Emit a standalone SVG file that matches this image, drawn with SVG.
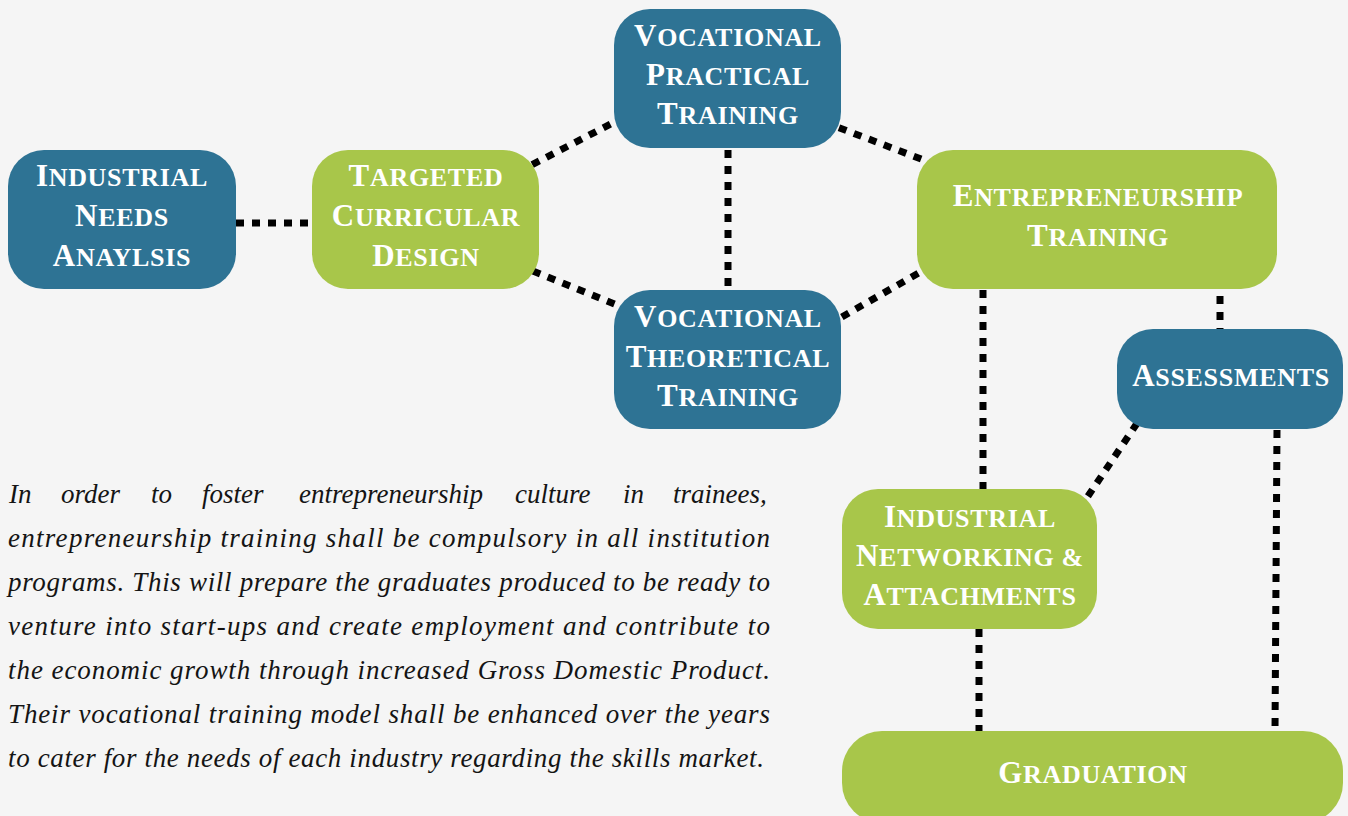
<svg xmlns="http://www.w3.org/2000/svg" width="1348" height="816" viewBox="0 0 1348 816">
<style>
.blue{fill:#2e7394}
.green{fill:#a8c64a}
.lbl{font-family:"Liberation Serif","DejaVu Serif",serif;font-weight:bold;fill:#ffffff;font-size:26px;letter-spacing:0.7px;text-anchor:middle}
.big{font-size:31px}
.con{stroke:#000;stroke-width:7;stroke-dasharray:8 8;fill:none}
.para{font-family:"Liberation Serif","DejaVu Serif",serif;font-style:italic;font-size:27px;fill:#141414}
</style>
<rect width="1348" height="816" fill="#f5f5f5"/>
<g id="connectors">
<line class="con" x1="236" y1="223" x2="312" y2="223"/>
<line class="con" x1="518" y1="172" x2="632" y2="113"/>
<line class="con" x1="518" y1="265" x2="632" y2="311"/>
<line class="con" x1="728" y1="150" x2="728" y2="290"/>
<line class="con" x1="824" y1="122" x2="942" y2="167"/>
<line class="con" x1="828" y1="325" x2="936" y2="263"/>
<line class="con" x1="983" y1="290" x2="983" y2="489"/>
<line class="con" x1="1220" y1="296" x2="1220" y2="329"/>
<line class="con" x1="1146" y1="410" x2="1080" y2="508"/>
<line class="con" x1="979" y1="629" x2="979" y2="731"/>
<line class="con" x1="1277" y1="430" x2="1275" y2="731"/>
</g>
<g id="industrial-needs-analysis">
<rect class="blue" x="8" y="150" width="228" height="139" rx="36"/>
<text class="lbl" x="122" y="186"><tspan class="big">I</tspan>NDUSTRIAL</text>
<text class="lbl" x="122" y="226"><tspan class="big">N</tspan>EEDS</text>
<text class="lbl" x="122" y="266"><tspan class="big">A</tspan>NAYLSIS</text>
</g>
<g id="targeted-curricular-design">
<rect class="green" x="312" y="150" width="227" height="139" rx="36"/>
<text class="lbl" x="426" y="186"><tspan class="big">T</tspan>ARGETED</text>
<text class="lbl" x="426" y="226"><tspan class="big">C</tspan>URRICULAR</text>
<text class="lbl" x="426" y="266"><tspan class="big">D</tspan>ESIGN</text>
</g>
<g id="vocational-practical-training">
<rect class="blue" x="614" y="9" width="227" height="139" rx="36"/>
<text class="lbl" x="728" y="46"><tspan class="big">V</tspan>OCATIONAL</text>
<text class="lbl" x="728" y="85"><tspan class="big">P</tspan>RACTICAL</text>
<text class="lbl" x="728" y="124"><tspan class="big">T</tspan>RAINING</text>
</g>
<g id="vocational-theoretical-training">
<rect class="blue" x="614" y="290" width="227" height="139" rx="36"/>
<text class="lbl" x="728" y="327"><tspan class="big">V</tspan>OCATIONAL</text>
<text class="lbl" x="728" y="367"><tspan class="big">T</tspan>HEORETICAL</text>
<text class="lbl" x="728" y="406"><tspan class="big">T</tspan>RAINING</text>
</g>
<g id="entrepreneurship-training">
<rect class="green" x="917" y="150" width="360" height="139" rx="36"/>
<text class="lbl" x="1098" y="206"><tspan class="big">E</tspan>NTREPRENEURSHIP</text>
<text class="lbl" x="1098" y="246"><tspan class="big">T</tspan>RAINING</text>
</g>
<g id="assessments">
<rect class="blue" x="1117" y="329" width="226" height="100" rx="36"/>
<text class="lbl" x="1231" y="386"><tspan class="big">A</tspan>SSESSMENTS</text>
</g>
<g id="industrial-networking-attachments">
<rect class="green" x="842" y="489" width="255" height="140" rx="36"/>
<text class="lbl" x="970" y="527"><tspan class="big">I</tspan>NDUSTRIAL</text>
<text class="lbl" x="970" y="566"><tspan class="big">N</tspan>ETWORKING &amp;</text>
<text class="lbl" x="970" y="605"><tspan class="big">A</tspan>TTACHMENTS</text>
</g>
<g id="graduation">
<rect class="green" x="842" y="731" width="501" height="92" rx="40"/>
<text class="lbl" x="1093" y="783"><tspan class="big">G</tspan>RADUATION</text>
</g>
<g id="paragraph">
<text class="para" y="503"><tspan x="9">In</tspan><tspan x="61">order</tspan><tspan x="151">to</tspan><tspan x="202">foster</tspan><tspan x="299">entrepreneurship</tspan><tspan x="515">culture</tspan><tspan x="623">in</tspan><tspan x="673">trainees,</tspan></text>
<text class="para" x="8" y="547" textLength="762" lengthAdjust="spacing">entrepreneurship training shall be compulsory in all institution</text>
<text class="para" x="8" y="591" textLength="762" lengthAdjust="spacing">programs. This will prepare the graduates produced to be ready to</text>
<text class="para" x="8" y="635" textLength="762" lengthAdjust="spacing">venture into start-ups and create employment and contribute to</text>
<text class="para" x="8" y="679" textLength="762" lengthAdjust="spacing">the economic growth through increased Gross Domestic Product.</text>
<text class="para" x="8" y="723" textLength="762" lengthAdjust="spacing">Their vocational training model shall be enhanced over the years</text>
<text class="para" x="8" y="767" textLength="756" lengthAdjust="spacing">to cater for the needs of each industry regarding the skills market.</text>
</g>
</svg>
